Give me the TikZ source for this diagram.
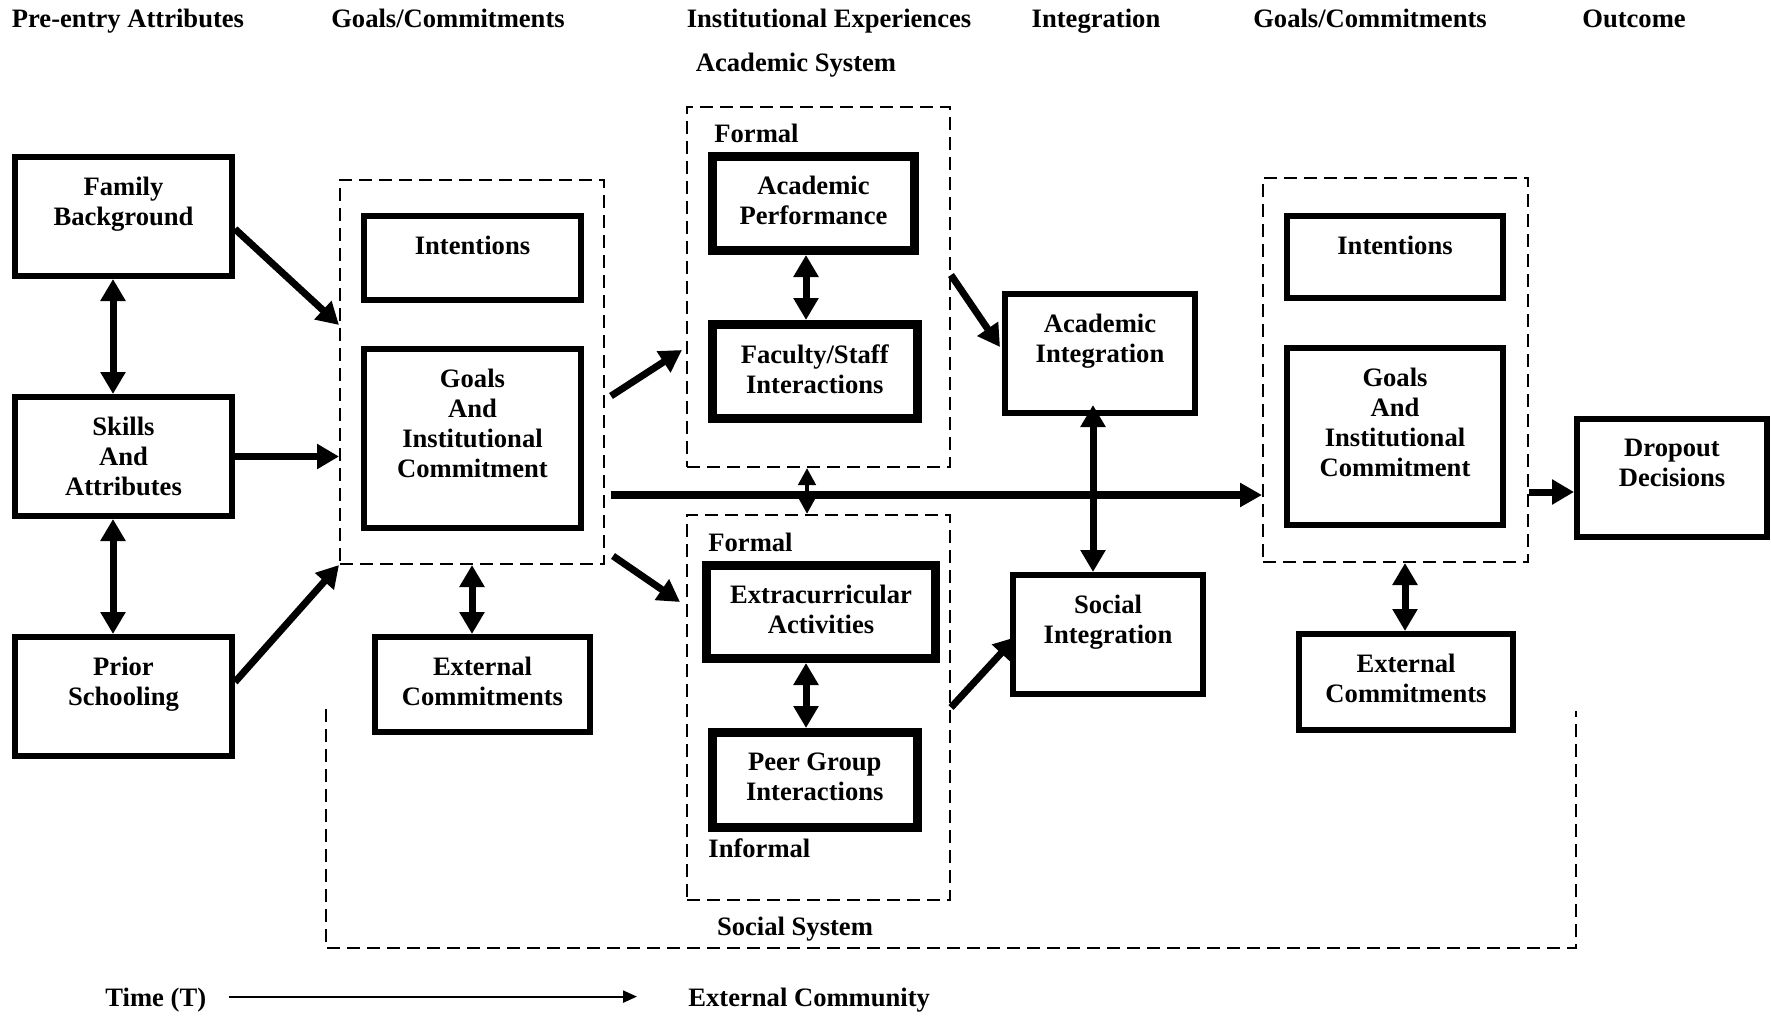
\documentclass[tikz,border=0pt]{standalone}
\usepackage{fontspec}
\setmainfont{Liberation Serif}
\usetikzlibrary{arrows.meta,calc}

\begin{document}
\begin{tikzpicture}[x=0.5pt,y=-0.5pt,
  every node/.style={font=\fontsize{13.3pt}{15pt}\selectfont\bfseries, inner sep=0pt},
  box/.style={draw, line width=2.8pt, rectangle},
  tbox/.style={draw, line width=4.3pt, rectangle},
  dbox/.style={draw, line width=1pt, dash pattern=on 6.5pt off 3.5pt, rectangle},
  txt/.style={anchor=north, align=center},
  hdr/.style={anchor=base},
  lbl/.style={anchor=base west},
  arr/.style={line width=3.5pt, -{Triangle[width=12pt,length=11pt]}},
  darr/.style={line width=3.5pt, {Triangle[width=12pt,length=11pt]}-{Triangle[width=12pt,length=11pt]}},
  marr/.style={line width=4pt, -{Triangle[width=11.5pt,length=11pt]}},
  sarr/.style={line width=2.2pt, {Triangle[width=8.5pt,length=8.5pt]}-{Triangle[width=8.5pt,length=8.5pt]}},
  tarr/.style={line width=1.1pt, -{Triangle[width=6pt,length=7pt]}}
]
\useasboundingbox (0,0) rectangle (1771,1016);

% column headings
\node[hdr] (h1) at (128,28) {Pre-entry Attributes};
\node[hdr] (h2) at (448,28) {Goals/Commitments};
\node[hdr] (h3) at (829,28) {Institutional Experiences};
\node[hdr] (h4) at (1096,28) {Integration};
\node[hdr] (h5) at (1370,28) {Goals/Commitments};
\node[hdr] (h6) at (1634,28) {Outcome};
\node[hdr] (acsys) at (796,72) {Academic System};

% dashed groups
\node[dbox, minimum width=132pt, minimum height=192pt] (g1) at (472,372) {};
\node[dbox, minimum width=131.5pt, minimum height=180pt] (acad) at (818.5,287) {};
\node[dbox, minimum width=131.5pt, minimum height=192.5pt] (soc) at (818.5,707.5) {};
\node[dbox, minimum width=132.5pt, minimum height=192pt] (g2) at (1395.5,370) {};

% external community frame
\draw[line width=1pt, dash pattern=on 6.5pt off 3.5pt] (326,709) -- (326,948) -- (1576,948) -- (1576,711);

% pre-entry attributes
\node[box, minimum width=108.7pt, minimum height=59.7pt] (fam) at (123.5,216.5) {};
\node[box, minimum width=108.7pt, minimum height=59.7pt] (skl) at (123.5,456.5) {};
\node[box, minimum width=108.7pt, minimum height=59.7pt] (pri) at (123.5,696.5) {};
\node[txt] (famT) at ([yshift=-11.5pt]fam.north) {Family\\Background};
\node[txt] (sklT) at ([yshift=-11.5pt]skl.north) {Skills\\And\\Attributes};
\node[txt] (priT) at ([yshift=-11.5pt]pri.north) {Prior\\Schooling};

% initial goals and commitments
\node[box, minimum width=108.7pt, minimum height=42.2pt] (intL) at (472.5,258) {};
\node[box, minimum width=108.7pt, minimum height=89.7pt] (golL) at (472.5,438.5) {};
\node[box, minimum width=107.7pt, minimum height=47.7pt] (extL) at (482.5,684.5) {};
\node[txt] (intLT) at ([yshift=-11.5pt]intL.north) {Intentions};
\node[txt] (golLT) at ([yshift=-11.5pt]golL.north) {Goals\\And\\Institutional\\Commitment};
\node[txt] (extLT) at ([yshift=-11.5pt]extL.north) {External\\Commitments};

% academic system
\node[lbl] (f1) at (714,143) {Formal};
\node[tbox, minimum width=101.2pt, minimum height=47.2pt] (perf) at (813.5,203.5) {};
\node[tbox, minimum width=102.45pt, minimum height=47.2pt] (fac) at (814.75,371.5) {};
\node[txt] (perfT) at ([yshift=-12pt]perf.north) {Academic\\Performance};
\node[txt] (facT) at ([yshift=-12pt]fac.north) {Faculty/Staff\\Interactions};

% social system
\node[lbl] (f2) at (708,551) {Formal};
\node[tbox, minimum width=114.7pt, minimum height=46.7pt] (extra) at (821,612) {};
\node[tbox, minimum width=102.45pt, minimum height=47.7pt] (peer) at (814.75,780) {};
\node[txt] (extraT) at ([yshift=-12pt]extra.north) {Extracurricular\\Activities};
\node[txt] (peerT) at ([yshift=-12pt]peer.north) {Peer Group\\Interactions};
\node[lbl] (inf) at (708,857) {Informal};
\node[hdr] (socsys) at (795,935) {Social System};

% integration
\node[box, minimum width=95.2pt, minimum height=59.7pt] (aint) at (1100,353.5) {};
\node[box, minimum width=95.2pt, minimum height=59.7pt] (sint) at (1108,634.5) {};
\node[txt] (aintT) at ([yshift=-11.5pt]aint.north) {Academic\\Integration};
\node[txt] (sintT) at ([yshift=-11.5pt]sint.north) {Social\\Integration};

% later goals and commitments
\node[box, minimum width=108.2pt, minimum height=41.2pt] (intR) at (1395,257) {};
\node[box, minimum width=108.2pt, minimum height=88.7pt] (golR) at (1395,436.5) {};
\node[box, minimum width=107.2pt, minimum height=48.2pt] (extR) at (1406,682) {};
\node[txt] (intRT) at ([yshift=-11.5pt]intR.north) {Intentions};
\node[txt] (golRT) at ([yshift=-11.5pt]golR.north) {Goals\\And\\Institutional\\Commitment};
\node[txt] (extRT) at ([yshift=-11.5pt]extR.north) {External\\Commitments};

% outcome
\node[box, minimum width=95.2pt, minimum height=59.2pt] (drop) at (1672,478) {};
\node[txt] (dropT) at ([yshift=-11.5pt]drop.north) {Dropout\\Decisions};

% time axis
\node[lbl] (time) at (105,1006) {Time (T)};
\node[lbl] (ecom) at (688,1006) {External Community};
\coordinate (t0) at ([xshift=11pt,yshift=1.5pt]time.east);
\draw[tarr, shorten >=25.5pt] (t0) -- (t0 -| ecom.west);

% connectors
\draw[arr] ([yshift=-6.25pt]fam.east) -- ([yshift=23.5pt]g1.west);
\draw[arr] (skl.east) -- (skl.east -| g1.west);
\draw[arr] ([yshift=7.25pt]pri.east) -- (g1.south west);
\draw[darr] ([xshift=-5.25pt]fam.south) -- ([xshift=-5.25pt]skl.north);
\draw[darr] ([xshift=-5.25pt]skl.south) -- ([xshift=-5.25pt]pri.north);
\draw[darr] (g1.south) -- (g1.south |- extL.north);
\draw[arr] ([xshift=3pt,yshift=-12pt]g1.east) -- ([xshift=-2pt,yshift=-31.5pt]acad.west);
\draw[arr] ([xshift=4pt,yshift=4.5pt]g1.south east) -- ([xshift=-3pt,yshift=52.75pt]soc.west);
\coordinate (m0) at ([xshift=3pt,yshift=-61.5pt]g1.east);
\draw[marr] (m0) -- (m0 -| g2.west);
\draw[darr] ([xshift=-3.75pt]perf.south) -- ([xshift=-3.75pt]perf.south |- fac.north);
\draw[sarr] ([xshift=-5.75pt]acad.south) -- ([xshift=-5.75pt]acad.south |- soc.north);
\draw[darr] ([xshift=-7.5pt]extra.south) -- ([xshift=-7.5pt]extra.south |- peer.north);
\draw[arr] ([yshift=6pt]acad.east) -- ([xshift=-1pt,yshift=3.25pt]aint.west);
\draw[arr] (soc.east) -- ([xshift=3pt,yshift=-1.25pt]sint.west);
\draw[darr] ([xshift=-3.5pt,yshift=5.5pt]aint.south) -- ([xshift=-3.5pt]aint.south |- sint.north);
\draw[darr] ([xshift=4.75pt]g2.south) -- ([xshift=4.75pt]g2.south |- extR.north);
\coordinate (d0) at ([yshift=-61pt]g2.east);
\draw[arr] (d0) -- (d0 -| drop.west);
\end{tikzpicture}
\end{document}
